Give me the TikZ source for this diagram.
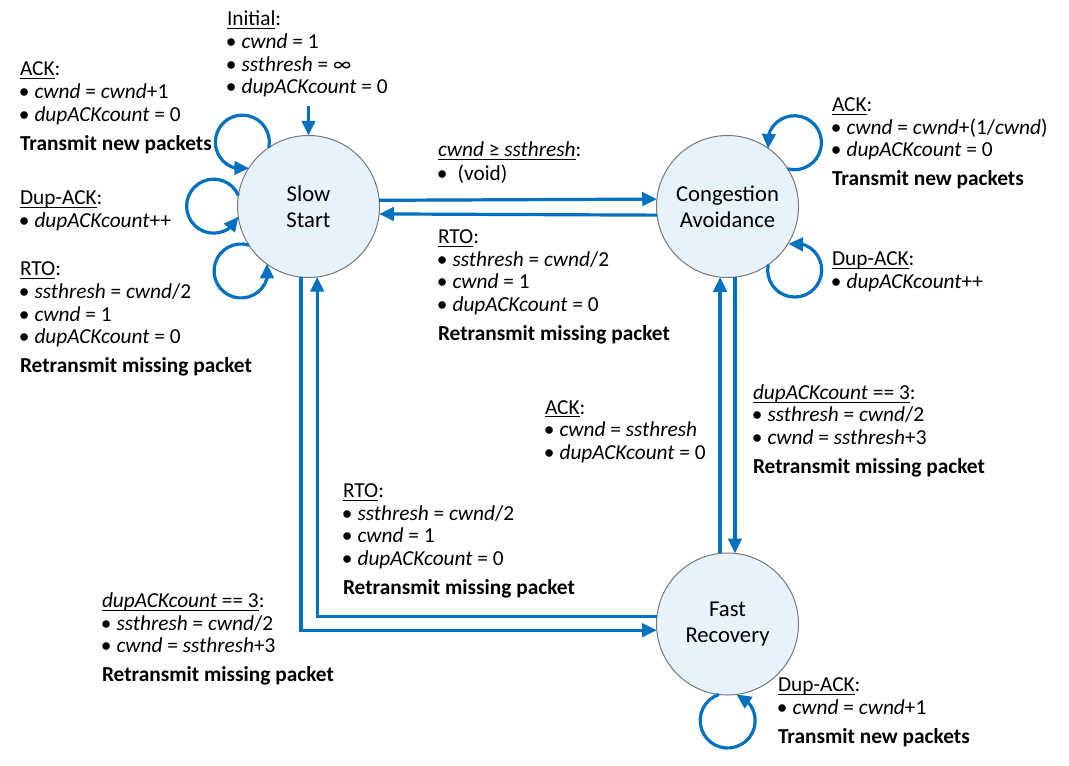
\documentclass[tikz,border=0pt]{standalone}
\usepackage{fontspec}
\setmainfont{Carlito}
\usetikzlibrary{arrows.meta,bending}
\definecolor{ablue}{RGB}{0,112,192}
\definecolor{sfill}{RGB}{230,242,252}
\definecolor{sline}{RGB}{120,120,120}
\newcommand\ulw[1]{\sbox0{#1}\rlap{\rule[-2.2pt]{\wd0}{0.55pt}}\usebox0}
\newcommand\bul{\hspace*{-0.9pt}\makebox[11.8pt][l]{•}}
\newcommand\bulv{\hspace*{-0.9pt}\makebox[15.6pt][l]{•}}
\newcommand\vv[1]{\textit{#1}}
\newcommand\blk[1]{\begin{tabular}[t]{@{}l@{}}#1\end{tabular}}
\begin{document}
\begin{tikzpicture}[x=0.75pt,y=0.75pt,
  state/.style={circle, draw=sline, line width=0.75pt, fill=sfill, minimum size=106.5pt,
    inner sep=0pt, outer sep=0pt, align=center, font=\fontsize{17}{19.5}\selectfont},
  conn/.style={draw=ablue, line width=2.4pt, -{Triangle[length=11pt,width=10pt]}},
  lbl/.style={anchor=base west, inner sep=0pt, outer sep=0pt,
    font=\fontsize{16}{16.9}\selectfont}]
\fill[white] (0,0) rectangle (1069,765);
\useasboundingbox (0,0) rectangle (1069,765);

% states
\node[state] (ss) at (308.5,558.5) {Slow\\Start};
\node[state] (ca) at (727.5,558.5) {Congestion\\Avoidance};
\node[state] (fr) at (727.5,141) {Fast\\Recovery};
\coordinate (init) at (308.5,659);

% connectors
\draw[conn] (init) -- (ss.north);
\draw[conn] (ss.5.25) -- (ca.174.75);
\draw[conn] (ca.-173.12) -- (ss.-6.88);
\draw[conn] (fr.96.06) -- (ca.-96.06);
\draw[conn] (ca.-84.75) -- (fr.84.75);
\draw[conn] (ss.-96.06) |- (fr.-175.15);
\draw[conn] (fr.174.34) -| (ss.-83.94);

% self loops
\draw[conn] (ss.124.7) arc[start angle=-11.8, end angle=284.4, radius=27];
\draw[conn] (ss.171.6) arc[start angle=23.5, end angle=337.1, radius=27];
\draw[conn] (ss.213.75) arc[start angle=72.95, end angle=375.75, radius=27];
\draw[conn] (ca.32.6) arc[start angle=255.6, end angle=552.6, radius=27];
\draw[conn] (ca.-55.7) arc[start angle=168.5, end angle=463.7, radius=27];
\draw[conn] (fr.-97.1) arc[start angle=108.7, end angle=431.3, radius=27.5];

% labels
\node[lbl] (linit) at (227,739) {\blk{\ulw{Initial}:\\\bul\vv{cwnd} = 1\\\bul\vv{ssthresh} = ∞\\\bul\vv{dupACKcount} = 0}};
\node[lbl] (lssack) at (20,689) {\blk{\ulw{ACK}:\\\bul\vv{cwnd} = \vv{cwnd}+1\\\bul\vv{dupACKcount} = 0\\[4.9pt]\textbf{Transmit new packets}}};
\node[lbl] (lssdup) at (20,560) {\blk{\ulw{Dup-ACK}:\\\bul\vv{dupACKcount}++}};
\node[lbl] (lssrto) at (20,489) {\blk{\ulw{RTO}:\\\bul\vv{ssthresh} = \vv{cwnd}/2\\\bul\vv{cwnd} = 1\\\bul\vv{dupACKcount} = 0\\[4.9pt]\textbf{Retransmit missing packet}}};
\node[lbl] (lssca) at (438,608) {\blk{\ulw{\vv{cwnd} ≥ \vv{ssthresh}}:\\[0.6pt]\bulv(void)}};
\node[lbl] (lcarto) at (438,521.5) {\blk{\ulw{RTO}:\\\bul\vv{ssthresh} = \vv{cwnd}/2\\\bul\vv{cwnd} = 1\\\bul\vv{dupACKcount} = 0\\[4.9pt]\textbf{Retransmit missing packet}}};
\node[lbl] (lcaack) at (832,653.3) {\blk{\ulw{ACK}:\\\bul\vv{cwnd} = \vv{cwnd}+(1/\vv{cwnd})\\\bul\vv{dupACKcount} = 0\\[4.9pt]\textbf{Transmit new packets}}};
\node[lbl] (lcadup) at (832,499) {\blk{\ulw{Dup-ACK}:\\\bul\vv{dupACKcount}++}};
\node[lbl] (lfrack) at (545,351) {\blk{\ulw{ACK}:\\\bul\vv{cwnd} = \vv{ssthresh}\\\bul\vv{dupACKcount} = 0}};
\node[lbl] (lcafr) at (753,365.7) {\blk{\ulw{\vv{dupACKcount} == 3}:\\\bul\vv{ssthresh} = \vv{cwnd}/2\\\bul\vv{cwnd} = \vv{ssthresh}+3\\[4.9pt]\textbf{Retransmit missing packet}}};
\node[lbl] (lfrrto) at (343,267.5) {\blk{\ulw{RTO}:\\\bul\vv{ssthresh} = \vv{cwnd}/2\\\bul\vv{cwnd} = 1\\\bul\vv{dupACKcount} = 0\\[4.9pt]\textbf{Retransmit missing packet}}};
\node[lbl] (lssfr) at (102,157.5) {\blk{\ulw{\vv{dupACKcount} == 3}:\\\bul\vv{ssthresh} = \vv{cwnd}/2\\\bul\vv{cwnd} = \vv{ssthresh}+3\\[4.9pt]\textbf{Retransmit missing packet}}};
\node[lbl] (lfrdup) at (778,73.3) {\blk{\ulw{Dup-ACK}:\\\bul\vv{cwnd} = \vv{cwnd}+1\\[4.9pt]\textbf{Transmit new packets}}};
\end{tikzpicture}
\end{document}
